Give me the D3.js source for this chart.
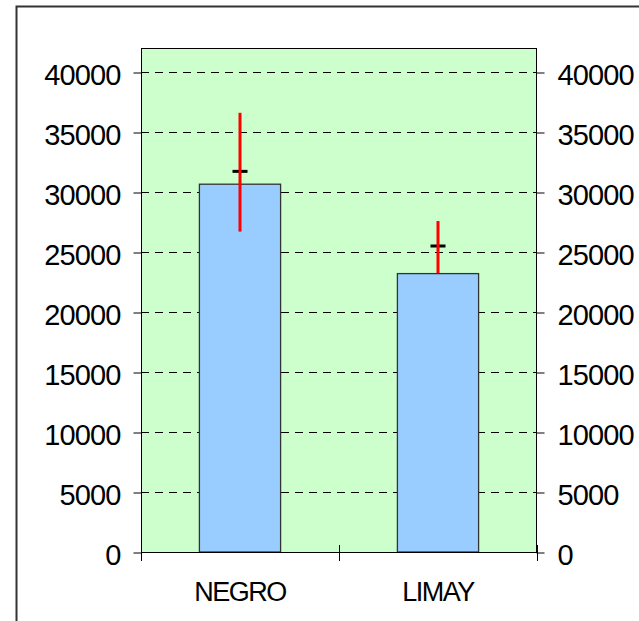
<!DOCTYPE html>
<html>
<head>
<meta charset="utf-8">
<script src="https://cdn.jsdelivr.net/npm/d3@7"></script>
<style>
  html, body { margin: 0; padding: 0; background: #fff; }
  svg { display: block; }
</style>
</head>
<body>
<svg id="chart" width="639" height="621"></svg>
<script>
// ---- data ----
const categories = ["NEGRO", "LIMAY"];
const barValues = [30650, 23200];
const meanValues = [31720, 25500];
const errHigh = [36600, 27580];
const errLow = [26700, 23250];
const yTicks = [0, 5000, 10000, 15000, 20000, 25000, 30000, 35000, 40000];

// ---- layout ----
const W = 639, H = 621;
const plot = { left: 141, right: 537, top: 48, bottom: 552 };
const svg = d3.select("#chart");
const font = "'Liberation Sans', Arial, sans-serif";

// outer border (only left/top visible in crop)
svg.append("rect")
  .attr("x", 16.5).attr("y", 6.5)
  .attr("width", 700).attr("height", 700)
  .attr("fill", "#fff").attr("stroke", "#333").attr("stroke-width", 2);

const x = d3.scaleBand().domain(categories).range([plot.left, plot.right]).padding(0);
const y = d3.scaleLinear().domain([0, 42000]).range([plot.bottom, plot.top]);

// plot background
svg.append("rect")
  .attr("x", plot.left).attr("y", plot.top)
  .attr("width", plot.right - plot.left).attr("height", plot.bottom - plot.top)
  .attr("fill", "#CCFFCC");

// gridlines
svg.append("g").selectAll("line").data(yTicks.filter(d => d > 0)).join("line")
  .attr("x1", plot.left).attr("x2", plot.right)
  .attr("y1", d => Math.round(y(d)) + 0.5).attr("y2", d => Math.round(y(d)) + 0.5)
  .attr("stroke", "#000").attr("stroke-width", 1).attr("stroke-dasharray", "8,6");

// plot border
svg.append("rect")
  .attr("x", plot.left + 0.5).attr("y", plot.top + 0.5)
  .attr("width", plot.right - plot.left - 1).attr("height", plot.bottom - plot.top)
  .attr("fill", "none").attr("stroke", "#000").attr("stroke-width", 1);

// bars
const barW = x.bandwidth() * 0.41;
svg.append("g").selectAll("rect").data(categories).join("rect")
  .attr("x", d => x(d) + (x.bandwidth() - barW) / 2)
  .attr("y", (d, i) => y(barValues[i]))
  .attr("width", barW)
  .attr("height", (d, i) => y(0) - y(barValues[i]))
  .attr("fill", "#99CCFF").attr("stroke", "#333").attr("stroke-width", 1.3);

// mean markers
svg.append("g").selectAll("line").data(categories).join("line")
  .attr("x1", d => x(d) + x.bandwidth() / 2 - 7.5)
  .attr("x2", d => x(d) + x.bandwidth() / 2 + 7.5)
  .attr("y1", (d, i) => y(meanValues[i])).attr("y2", (d, i) => y(meanValues[i]))
  .attr("stroke", "#000").attr("stroke-width", 3);

// error bars
svg.append("g").selectAll("line").data(categories).join("line")
  .attr("x1", d => x(d) + x.bandwidth() / 2)
  .attr("x2", d => x(d) + x.bandwidth() / 2)
  .attr("y1", (d, i) => y(errHigh[i])).attr("y2", (d, i) => y(errLow[i]))
  .attr("stroke", "#FF0000").attr("stroke-width", 3);

// x axis line
svg.append("line")
  .attr("x1", plot.left).attr("x2", plot.right)
  .attr("y1", plot.bottom + 0.5).attr("y2", plot.bottom + 0.5)
  .attr("stroke", "#000");

// x ticks at category boundaries (cross)
const bounds = categories.map(d => x(d)).concat([x(categories[categories.length - 1]) + x.bandwidth()]);
svg.append("g").selectAll("line").data(bounds).join("line")
  .attr("x1", d => Math.round(d) + 0.5).attr("x2", d => Math.round(d) + 0.5)
  .attr("y1", plot.bottom - 7).attr("y2", plot.bottom + 9)
  .attr("stroke", "#000");

// left axis
const yl = svg.append("g").attr("transform", `translate(${plot.left + 0.5},0.5)`)
  .call(d3.axisLeft(y).tickValues(yTicks).tickSize(8).tickPadding(13).tickFormat(d3.format("d")));
yl.select(".domain").remove();
yl.selectAll("text").attr("font-family", font).attr("font-size", 29).attr("fill", "#000")
  .attr("dy", "0.41em").attr("letter-spacing", "-0.9");

// right axis
const yr = svg.append("g").attr("transform", `translate(${plot.right - 0.5},0.5)`)
  .call(d3.axisRight(y).tickValues(yTicks).tickSize(8).tickPadding(13).tickFormat(d3.format("d")));
yr.select(".domain").remove();
yr.selectAll("text").attr("font-family", font).attr("font-size", 29).attr("fill", "#000")
  .attr("dy", "0.41em").attr("letter-spacing", "-0.9");

// category labels
const xa = svg.append("g").attr("transform", `translate(0,${plot.bottom})`)
  .call(d3.axisBottom(x).tickSize(0));
xa.select(".domain").remove();
xa.selectAll("text").attr("font-family", font).attr("font-size", 27).attr("fill", "#000")
  .attr("y", 49).attr("dy", 0).attr("letter-spacing", "-1.5");
</script>
</body>
</html>
